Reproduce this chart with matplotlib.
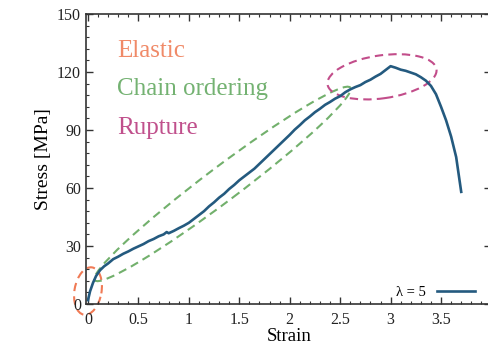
import matplotlib
matplotlib.use("Agg")
import matplotlib.pyplot as plt
from matplotlib.patches import Ellipse
from matplotlib.ticker import MultipleLocator, AutoMinorLocator
from matplotlib.transforms import ScaledTranslation

plt.rcParams['font.family'] = ['Liberation Serif', 'DejaVu Serif']

# tensile test, draw ratio 5
strain = [0.0, 0.02, 0.05, 0.08, 0.12, 0.16, 0.2, 0.25, 0.3, 0.35, 0.4, 0.45,
          0.5, 0.55, 0.6, 0.65, 0.7, 0.75, 0.78, 0.8, 0.85, 0.9, 0.95, 1.0,
          1.05, 1.1, 1.15, 1.2, 1.25, 1.3, 1.35, 1.4, 1.45, 1.5, 1.55, 1.6,
          1.65, 1.7, 1.75, 1.8, 1.85, 1.9, 1.95, 2.0, 2.05, 2.1, 2.15, 2.2,
          2.25, 2.3, 2.35, 2.4, 2.45, 2.5, 2.55, 2.6, 2.65, 2.7, 2.75, 2.8,
          2.85, 2.9, 2.95, 3.0, 3.05, 3.1, 3.15, 3.2, 3.25, 3.3, 3.35, 3.4,
          3.45, 3.5, 3.55, 3.6, 3.65, 3.7]
stress = [2.0, 6.5, 11.0, 14.5, 17.5, 19.5, 21.0, 23.2, 24.5, 26.0, 27.2, 28.6,
          29.8, 31.0, 32.5, 33.6, 35.0, 36.0, 37.2, 36.6, 37.8, 39.2, 40.5, 42.0,
          44.0, 46.0, 48.0, 50.5, 52.6, 55.0, 57.0, 59.5, 61.6, 64.0, 66.0, 68.0,
          70.0, 72.5, 75.0, 77.5, 80.0, 82.5, 85.0, 87.5, 90.2, 92.5, 95.0, 97.0,
          99.2, 101.0, 103.0, 104.5, 106.2, 107.5, 109.5, 111.0, 112.2, 113.2, 114.8, 116.0,
          117.6, 119.0, 121.0, 123.0, 122.2, 121.2, 120.6, 119.7, 118.8, 117.3, 115.5, 112.8,
          108.5, 102.0, 95.0, 86.6, 76.0, 58.0]

regions = ['Elastic', 'Chain ordering', 'Rupture']
region_colors = ['#f08a68', '#74b272', '#c0508c']
ellipse_colors = ['#f07a55', '#72b06c', '#c24d8a']
# centre (strain, stress), axes in pixels, tilt in degrees
ellipse_centers = [(0.0, 6.7), (1.334, 62.1), (2.915, 117.5)]
ellipse_sizes = [(48, 27, 80), (320, 34, 37), (110, 43, 8)]

fig = plt.figure(figsize=(4.88, 3.46), dpi=100)
ax = fig.add_axes([0.1762, 0.1214, 0.8309, 0.8382])

line_color = '#245a7f'
ax.plot(strain, stress, color=line_color, lw=1.9, label='λ = 5')

ax.set_xlim(-0.02, 4.0)
ax.set_ylim(0, 150)
ax.xaxis.set_major_locator(MultipleLocator(0.5))
ax.xaxis.set_minor_locator(AutoMinorLocator(5))
ax.yaxis.set_major_locator(MultipleLocator(30))
ax.yaxis.set_minor_locator(AutoMinorLocator(5))
ax.set_xticks([0, 0.5, 1, 1.5, 2, 2.5, 3, 3.5])
ax.set_xticklabels(['0', '0.5', '1', '1.5', '2', '2.5', '3', '3.5'])

ax.tick_params(which='both', direction='in', top=True, right=True,
               color='#333333', labelsize=11.5, labelcolor='#222222')
ax.tick_params(which='major', length=5, width=1)
ax.tick_params(which='minor', length=2.5, width=0.8)
ax.tick_params(axis='x', pad=6)
for s in ax.spines.values():
    s.set_color('#333333')
    s.set_linewidth(1.2)

ax.set_xlabel('Strain', fontsize=13.5, labelpad=0)
ax.set_ylabel('Stress [MPa]', fontsize=14, labelpad=4)

# region labels
for i, name in enumerate(regions):
    ax.text(0.288, [127.8, 108.0, 88.0][i], name, color=region_colors[i],
            fontsize=18, ha='left', va='baseline')

# dashed outlines around each region
for (cx, cy), (w, h, ang), c in zip(ellipse_centers, ellipse_sizes, ellipse_colors):
    tr = fig.dpi_scale_trans + ScaledTranslation(cx, cy, ax.transData)
    e = Ellipse((0, 0), w / 100, h / 100, angle=ang, transform=tr,
                fill=False, edgecolor=c, lw=1.5, linestyle=(0, (4, 2.5)),
                clip_on=False)
    ax.add_patch(e)

leg = ax.legend(loc='lower right', bbox_to_anchor=(0.989, 0.115),
                bbox_transform=fig.transFigure, frameon=False,
                markerfirst=False, fontsize=10.5, handlelength=2.6,
                borderpad=0, handletextpad=0.8)

fig.savefig('out.png', dpi=100)
